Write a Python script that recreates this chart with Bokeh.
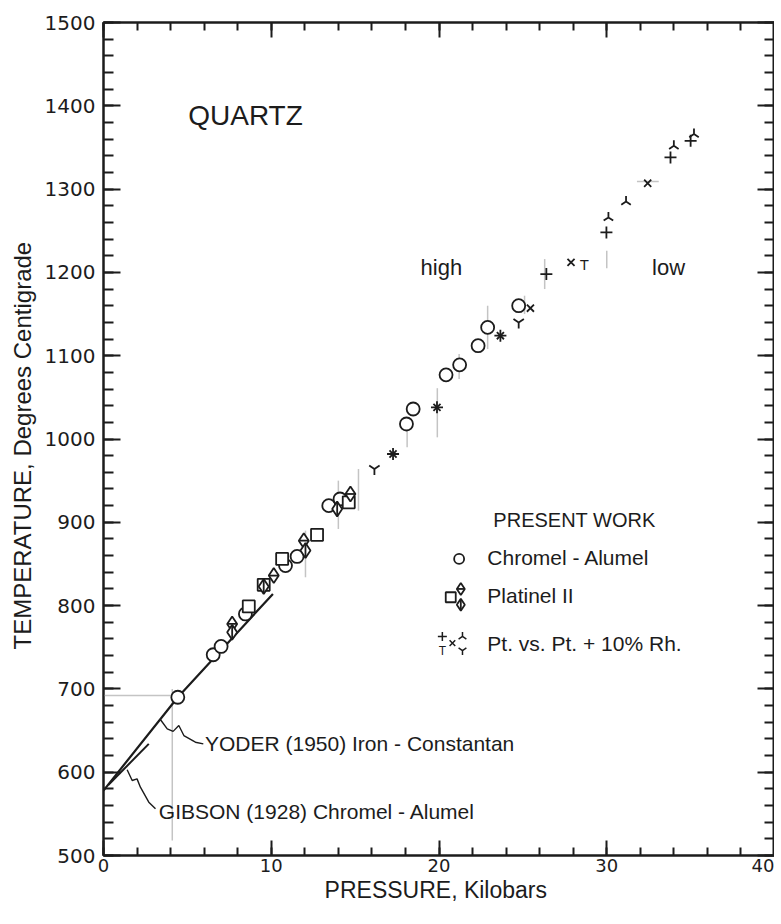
import numpy as np
from bokeh.plotting import figure
from bokeh.models import LinearAxis, Range1d, SingleIntervalTicker
from bokeh.embed import file_html
from bokeh.resources import INLINE
from bokeh.core.properties import value

# ---------------- data (pressure in kbar, temperature in deg C) ----------------
# Chromel-Alumel (circles)
ca_p = [4.43, 6.54, 7.01, 8.46, 10.85, 11.54, 13.43, 14.10, 18.06, 18.46, 20.42, 21.23, 22.33, 22.90, 24.75]
ca_t = [690, 741, 751, 790, 848, 859, 920, 928, 1018, 1036, 1077, 1089, 1112, 1134, 1160]
# Platinel II: squares, diamonds with horizontal bar, diamonds with vertical bar
pl_sq_p = [8.66, 9.55, 10.65, 12.73, 14.62]
pl_sq_t = [799, 825, 856, 885, 924]
pl_dh_p = [7.67, 10.15, 11.94, 14.72]
pl_dh_t = [778, 836, 878, 934]
pl_dv_p = [7.67, 9.55, 12.04, 13.93]
pl_dv_t = [768, 823, 866, 916]
# Pt vs Pt + 10% Rh: +, x, inverted Y, Y, T
pt_plus_p = [17.26, 19.88, 23.66, 26.40, 29.98, 33.80, 35.00]
pt_plus_t = [982, 1038, 1124, 1198, 1248, 1338, 1358]
pt_x_p = [17.26, 19.88, 23.66, 25.45, 27.87, 32.44]
pt_x_t = [982, 1038, 1124, 1157, 1212, 1307]
pt_lam_p = [30.10, 31.15, 34.00, 35.20]
pt_lam_t = [1266, 1285, 1352, 1366]
pt_y_p = [16.15, 24.75]
pt_y_t = [964, 1140]
pt_T_p = [28.67]
pt_T_t = [1209]

# earlier determinations (lines)
yoder_p = [0.0, 4.43, 10.10]
yoder_t = [578, 690, 814]
gibson_p = [0.30, 2.70]
gibson_t = [585, 634]

# faint pencil uncertainty bars: x, t_low, t_high
bar_p = [4.10, 12.04, 14.00, 15.20, 18.10, 19.90, 21.20, 22.90, 25.10, 26.30, 30.00]
bar_lo = [518, 834, 892, 914, 990, 1002, 1072, 1108, 1150, 1180, 1205]
bar_hi = [700, 890, 950, 964, 1012, 1061, 1102, 1160, 1172, 1216, 1226]
hbar_p0 = [0.0, 31.80]
hbar_p1 = [4.40, 33.10]
hbar_t = [692, 1309]

# annotation leaders
yoder_lead_p = [3.40, 3.80, 4.15, 4.49, 4.79, 5.48, 5.95]
yoder_lead_t = [663, 652, 649, 656, 644, 636, 634]
gibson_lead_p = [1.41, 1.71, 2.00, 2.20, 2.70, 3.10]
gibson_lead_t = [603, 590, 592, 582, 564, 556]

# texts
ann_text = ["QUARTZ", "high", "low", "YODER (1950) Iron - Constantan", "GIBSON (1928) Chromel - Alumel"]
ann_p = [5.05, 18.90, 32.70, 6.05, 3.30]
ann_t = [1388, 1206, 1206, 634, 553]
ann_size = ["28px", "22px", "22px", "21px", "21px"]

leg_title = "PRESENT WORK"
leg_text = ["Chromel - Alumel", "Platinel II", "Pt. vs. Pt. + 10% Rh."]
leg_text_p = [22.88, 22.88, 22.88]
leg_text_t = [858, 812, 755]
leg_title_p = 23.24
leg_title_t = 903

# legend keys
lk_circ_p, lk_circ_t = [21.20], [856]
lk_sq_p, lk_sq_t = [20.70], [810]
lk_dh_p, lk_dh_t = [21.30], [820]
lk_dv_p, lk_dv_t = [21.30], [801]
lk_plus_p, lk_plus_t = [20.20], [763]
lk_T_p, lk_T_t = [20.20], [746]
lk_x_p, lk_x_t = [20.80], [755]
lk_lam_p, lk_lam_t = [21.40], [763]
lk_y_p, lk_y_t = [21.40], [746]

x_ticks_major = 10
y_ticks_major = 100

ink = "#1c1c1c"
pencil = "#c4c4c4"
FONT = "Liberation Sans"

p = figure(frame_width=671, frame_height=833, x_range=Range1d(0, 40), y_range=Range1d(500, 1500),
           output_backend="svg", toolbar_location=None,
           min_border_left=103, min_border_right=0, min_border_top=22, min_border_bottom=58)
p.xgrid.visible = False
p.ygrid.visible = False
p.outline_line_color = ink
p.outline_line_width = 2
p.background_fill_color = "white"
p.border_fill_color = "white"

p.xaxis.ticker = SingleIntervalTicker(interval=x_ticks_major, num_minor_ticks=5)
p.yaxis.ticker = SingleIntervalTicker(interval=y_ticks_major, num_minor_ticks=5)


def style(ax, maj, mino):
    ax.major_tick_in = maj
    ax.major_tick_out = 0
    ax.minor_tick_in = mino
    ax.minor_tick_out = 0
    ax.major_tick_line_width = 2
    ax.minor_tick_line_width = 2
    ax.major_tick_line_color = ink
    ax.minor_tick_line_color = ink
    ax.axis_line_width = 2
    ax.axis_line_color = ink


for ax in p.xaxis:
    style(ax, 15, 8)
    ax.major_label_text_font = "DejaVu Sans"
    ax.major_label_text_font_size = "18px"
    ax.major_label_text_color = ink
    ax.major_label_standoff = 3
    ax.axis_label = "PRESSURE,  Kilobars"
    ax.axis_label_text_font = FONT
    ax.axis_label_text_font_style = "normal"
    ax.axis_label_text_font_size = "23px"
    ax.axis_label_text_color = ink
    ax.axis_label_standoff = 2

for ax in p.yaxis:
    style(ax, 17, 10)
    ax.major_label_text_font = "DejaVu Sans"
    ax.major_label_text_font_size = "20px"
    ax.major_label_text_color = ink
    ax.major_label_standoff = 8
    ax.axis_label = "TEMPERATURE,  Degrees  Centigrade"
    ax.axis_label_text_font = FONT
    ax.axis_label_text_font_style = "normal"
    ax.axis_label_text_font_size = "24px"
    ax.axis_label_text_color = ink
    ax.axis_label_standoff = 6

top = LinearAxis(ticker=SingleIntervalTicker(interval=x_ticks_major, num_minor_ticks=5),
                 major_label_text_font_size="0px", major_label_text_alpha=0, major_label_standoff=0)
style(top, 15, 8)
p.add_layout(top, "above")
right = LinearAxis(ticker=SingleIntervalTicker(interval=y_ticks_major, num_minor_ticks=5),
                   major_label_text_font_size="0px", major_label_text_alpha=0, major_label_standoff=0)
style(right, 17, 10)
p.add_layout(right, "right")

# pencil marks
p.segment(x0=bar_p, y0=bar_lo, x1=bar_p, y1=bar_hi, line_color=pencil, line_width=1.5)
p.segment(x0=hbar_p0, y0=hbar_t, x1=hbar_p1, y1=hbar_t, line_color=pencil, line_width=1.5)

# lines
p.line(yoder_p, yoder_t, line_color=ink, line_width=2.2)
p.line(gibson_p, gibson_t, line_color=ink, line_width=2.0)
p.line(yoder_lead_p, yoder_lead_t, line_color=ink, line_width=1.4)
p.line(gibson_lead_p, gibson_lead_t, line_color=ink, line_width=1.4)

LW = 1.8
# markers
p.scatter(ca_p, ca_t, marker="circle", size=13, fill_color="white", line_color=ink, line_width=LW)
p.scatter(pl_sq_p, pl_sq_t, marker="square", size=12, fill_color="white", line_color=ink, line_width=LW)
p.scatter(pl_dh_p, pl_dh_t, marker="diamond", size=15, fill_color="white", line_color=ink, line_width=LW)
p.scatter(pl_dh_p, pl_dh_t, marker="dash", size=9, line_color=ink, line_width=LW)
p.scatter(pl_dv_p, pl_dv_t, marker="diamond", size=15, fill_color="white", line_color=ink, line_width=LW)
p.scatter(pl_dv_p, pl_dv_t, marker="dash", size=14, angle=np.pi / 2, line_color=ink, line_width=LW)
p.scatter(pt_plus_p, pt_plus_t, marker="cross", size=12, line_color=ink, line_width=LW)
p.scatter(pt_x_p, pt_x_t, marker="x", size=10, line_color=ink, line_width=LW)
p.scatter(pt_lam_p, pt_lam_t, marker="y", size=11, angle=np.pi, line_color=ink, line_width=LW)
p.scatter(pt_y_p, pt_y_t, marker="y", size=12, line_color=ink, line_width=LW)
p.text(pt_T_p, pt_T_t, text=["T"] * len(pt_T_p), text_font=value(FONT), text_font_size="15px",
       text_align="center", text_baseline="middle", text_color=ink)

# legend keys
p.scatter(lk_circ_p, lk_circ_t, marker="circle", size=10, fill_color="white", line_color=ink, line_width=LW)
p.scatter(lk_sq_p, lk_sq_t, marker="square", size=10, fill_color="white", line_color=ink, line_width=LW)
p.scatter(lk_dh_p, lk_dh_t, marker="diamond", size=12, fill_color="white", line_color=ink, line_width=LW)
p.scatter(lk_dh_p, lk_dh_t, marker="dash", size=7, line_color=ink, line_width=LW)
p.scatter(lk_dv_p, lk_dv_t, marker="diamond", size=12, fill_color="white", line_color=ink, line_width=LW)
p.scatter(lk_dv_p, lk_dv_t, marker="dash", size=11, angle=np.pi / 2, line_color=ink, line_width=LW)
p.scatter(lk_plus_p, lk_plus_t, marker="cross", size=9, line_color=ink, line_width=1.5)
p.scatter(lk_x_p, lk_x_t, marker="x", size=8, line_color=ink, line_width=1.5)
p.scatter(lk_lam_p, lk_lam_t, marker="y", size=9, angle=np.pi, line_color=ink, line_width=1.5)
p.scatter(lk_y_p, lk_y_t, marker="y", size=9, line_color=ink, line_width=1.5)
p.text(lk_T_p, lk_T_t, text=["T"], text_font=value(FONT), text_font_size="12px",
       text_align="center", text_baseline="middle", text_color=ink)

# texts
for txt, xp, yt_, fs in zip(ann_text, ann_p, ann_t, ann_size):
    p.text([xp], [yt_], text=[txt], text_font=value(FONT), text_font_size=fs,
           text_align="left", text_baseline="middle", text_color=ink)
p.text([leg_title_p], [leg_title_t], text=[leg_title], text_font=value(FONT), text_font_size="20px",
       text_align="left", text_baseline="middle", text_color=ink)
p.text(leg_text_p, leg_text_t, text=leg_text, text_font=value(FONT), text_font_size="21px",
       text_align="left", text_baseline="middle", text_color=ink)

open("out.html", "w").write(file_html(p, INLINE))
